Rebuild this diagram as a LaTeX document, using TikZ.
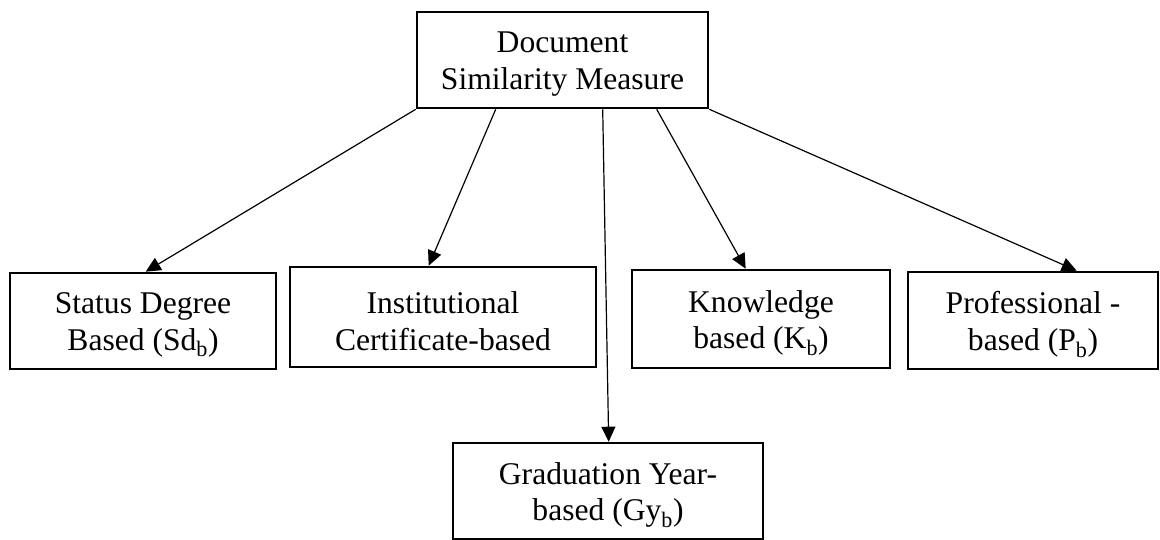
\documentclass[tikz,border=0pt]{standalone}
\usepackage{fontspec}
\setmainfont{Liberation Serif}
\usetikzlibrary{arrows.meta}
\tikzset{
  box/.style={draw, line width=2.6pt, inner sep=0pt},
  lbl/.style={inner sep=0pt, align=center,
    font=\fontsize{31.6}{36.4}\selectfont},
  link/.style={line width=1.2pt, -{Triangle[length=15pt,width=14pt]}}
}
\begin{document}
\begin{tikzpicture}[x=1pt,y=-1pt]
\useasboundingbox (0,0) rectangle (1160,540);
% root measure
\node[box, minimum width=291pt, minimum height=96pt] (top) at (562.5,60) {};
% first row of criteria
\node[box, minimum width=266pt, minimum height=96pt] (b1) at (143,321) {};
\node[box, minimum width=306pt, minimum height=100pt] (b2) at (443,317) {};
\node[box, minimum width=258pt, minimum height=98pt] (b3) at (761,319) {};
\node[box, minimum width=250pt, minimum height=97pt] (b4) at (1033,320.5) {};
% lower criterion
\node[box, minimum width=310pt, minimum height=96pt] (b5) at (608,491) {};
% box texts, set slightly below the box centres
\node[lbl] (topt) at ([yshift=-4pt]top.center) {Document\\Similarity Measure};
\node[lbl] (b1t) at ([yshift=-4pt]b1.center) {Status Degree\\Based (Sd\textsubscript{b})};
\node[lbl] (b2t) at ([yshift=-4pt]b2.center) {Institutional\\Certificate-based};
\node[lbl] (b3t) at ([yshift=-4pt]b3.center) {Knowledge\\based (K\textsubscript{b})};
\node[lbl] (b4t) at ([yshift=-4pt]b4.center) {Professional -\\based (P\textsubscript{b})};
\node[lbl] (b5t) at ([yshift=-4pt]b5.center) {Graduation Year-\\based (Gy\textsubscript{b})};
% connectors
\draw[link] (top.south west) -- ([xshift=137pt]b1.north west);
\draw[link] ([xshift=80pt]top.south west) -- ([xshift=140pt]b2.north west);
\draw[link] ([xshift=187pt]top.south west) -- ([xshift=157pt]b5.north west);
\draw[link] ([xshift=241pt]top.south west) -- ([xshift=115pt]b3.north west);
\draw[link] (top.south east) -- ([xshift=170pt]b4.north west);
\end{tikzpicture}
\end{document}
